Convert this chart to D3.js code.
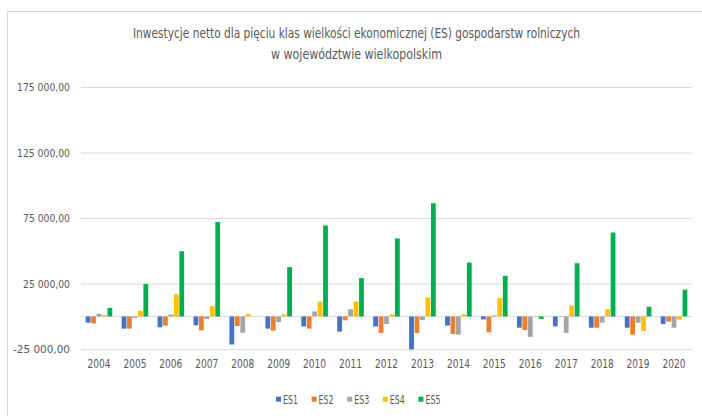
<!DOCTYPE html>
<html>
<head>
<meta charset="utf-8">
<script src="https://cdn.jsdelivr.net/npm/d3@7"></script>
<style>
  html, body { margin: 0; padding: 0; background: #fff; }
  svg text { font-family: "Liberation Sans Narrow", "DejaVu Sans Condensed", "Open Sans", sans-serif; fill: #595959; }
</style>
</head>
<body>
<svg id="chart" width="702" height="416"></svg>
<script>
// Net investment of farms by economic size class (ES), Wielkopolska
const years = ["2004","2005","2006","2007","2008","2009","2010","2011","2012","2013","2014","2015","2016","2017","2018","2019","2020"];
const seriesNames = ["ES1","ES2","ES3","ES4","ES5"];
const es1 = [-4800, -9300, -8300, -6800, -21400, -9300, -7600, -11600, -7600, -25200, -7000, -2300, -8600, -7600, -8600, -8600, -5800];
const es2 = [-5300, -9300, -7000, -10600, -7300, -10800, -9300, -3000, -12600, -12600, -13400, -12100, -10300, -300, -8600, -13900, -4000];
const es3 = [2000, -1200, 1500, -2000, -12400, -4300, 3800, 5500, -5800, -2800, -13900, 800, -15600, -12600, -4800, -4800, -8600];
const es4 = [1000, 4300, 16900, 7800, 2000, 1500, 11300, 11300, 1500, 14600, 1500, 14100, 300, 8300, 5500, -11100, -2500];
const es5 = [6500, 24700, 49700, 72100, 0, 37600, 69300, 29200, 59500, 86300, 41100, 31000, -2000, 40600, 64000, 7300, 20400];
const yTicks = [-25000, 25000, 75000, 125000, 175000];
const colors = ["#4472C4", "#ED7D31", "#A5A5A5", "#FFC000", "#00B050"];

const series = [es1, es2, es3, es4, es5];
const svg = d3.select("#chart");

// chart frame
svg.append("rect").attr("x", 7.5).attr("y", 11.5).attr("width", 720).attr("height", 420)
  .attr("fill", "none").attr("stroke", "#d9d9d9").attr("stroke-width", 1);

const plot = { left: 81, right: 692, top: 87, bottom: 349.2 };

const x = d3.scaleBand().domain(years).range([plot.left, plot.right]).padding(0);
const gap = x.bandwidth() * 0.26;
const xi = d3.scaleBand().domain(seriesNames).range([gap / 2, x.bandwidth() - gap / 2]).paddingInner(0.12);
const y = d3.scaleLinear().domain([-25000, 175000]).range([plot.bottom, plot.top]);

// gridlines + labels (Polish number format: space thousands, comma decimals, ASCII hyphen)
const fmt = v => d3.format(",.2f")(v).replace(/,/g, " ").replace(".", ",").replace("\u2212", "-");
const yAxis = d3.axisLeft(y).tickValues(yTicks).tickSize(-(plot.right - plot.left)).tickPadding(11).tickFormat(fmt);
const gy = svg.append("g").attr("transform", `translate(${plot.left},0)`).call(yAxis);
gy.select(".domain").remove();
gy.selectAll(".tick line").attr("stroke", "#d9d9d9");
gy.selectAll(".tick text").attr("font-size", 11).attr("fill", "#595959")
  .attr("textLength", d => d < 0 ? 57 : (d >= 100000 ? 53 : 47)).attr("lengthAdjust", "spacingAndGlyphs");

// zero line
svg.append("line").attr("x1", plot.left).attr("x2", plot.right)
  .attr("y1", y(0)).attr("y2", y(0)).attr("stroke", "#d9d9d9");

// bars
series.forEach((vals, si) => {
  svg.append("g").selectAll("rect").data(vals).join("rect")
    .attr("x", (d, i) => x(years[i]) + xi(seriesNames[si]))
    .attr("width", xi.bandwidth())
    .attr("y", d => y(Math.max(0, d)))
    .attr("height", d => Math.abs(y(d) - y(0)))
    .attr("fill", colors[si]);
});

// category labels
const xAxis = d3.axisBottom(x).tickSize(0).tickPadding(0);
const gx = svg.append("g").attr("transform", `translate(0,${plot.bottom + 10})`).call(xAxis);
gx.select(".domain").remove();
gx.selectAll(".tick text").attr("font-size", 12).attr("fill", "#595959")
  .attr("textLength", 23).attr("lengthAdjust", "spacingAndGlyphs");

// title
const title = svg.append("text").attr("text-anchor", "middle").attr("font-size", 14.5);
title.append("tspan").attr("x", 356.5).attr("y", 38)
  .attr("textLength", 447).attr("lengthAdjust", "spacingAndGlyphs")
  .text("Inwestycje netto dla pięciu klas wielkości ekonomicznej (ES) gospodarstw rolniczych");
title.append("tspan").attr("x", 356.5).attr("y", 59)
  .attr("textLength", 171).attr("lengthAdjust", "spacingAndGlyphs")
  .text("w województwie wielkopolskim");

// legend
const legend = svg.append("g").selectAll("g").data(seriesNames).join("g")
  .attr("transform", (d, i) => `translate(${276 + i * 35.6},400)`);
legend.append("rect").attr("x", 0).attr("y", -3.3).attr("width", 5).attr("height", 5)
  .attr("fill", (d, i) => colors[i]);
legend.append("text").attr("x", 7).attr("y", 4).attr("font-size", 11.5)
  .attr("textLength", 15).attr("lengthAdjust", "spacingAndGlyphs").text(d => d);
</script>
</body>
</html>
